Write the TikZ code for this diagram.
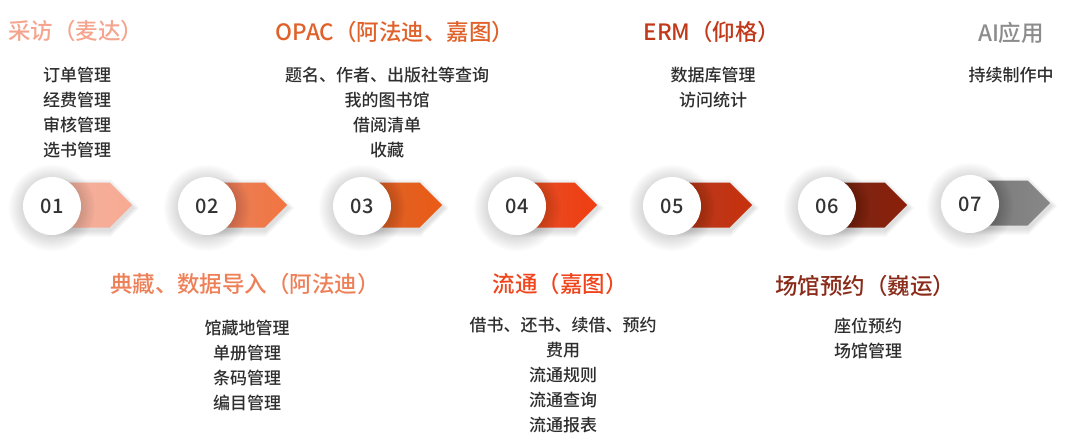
\documentclass[tikz,border=0pt]{standalone}
\usepackage{fontspec}
\setmainfont{Noto Sans CJK SC}[UprightFont={* Medium}]
\usetikzlibrary{shapes.symbols}
\definecolor{bodytxt}{HTML}{2E2E2E}
\definecolor{numtxt}{HTML}{333333}
\definecolor{tA}{HTML}{F5A58E}
\definecolor{tB}{HTML}{EE8058}
\definecolor{tC}{HTML}{E0622A}
\definecolor{tD}{HTML}{F0451C}
\definecolor{tE}{HTML}{C0391A}
\definecolor{tF}{HTML}{8A2B1A}
\definecolor{tG}{HTML}{8C8C8C}
\definecolor{cAl}{HTML}{F0B2A0}\definecolor{cAr}{HTML}{F8AA92}
\definecolor{cBl}{HTML}{E6845F}\definecolor{cBr}{HTML}{F27440}
\definecolor{cCl}{HTML}{D8662E}\definecolor{cCr}{HTML}{EC5A14}
\definecolor{cDl}{HTML}{E4522C}\definecolor{cDr}{HTML}{F03C10}
\definecolor{cEl}{HTML}{B43C22}\definecolor{cEr}{HTML}{C8300C}
\definecolor{cFl}{HTML}{742A1A}\definecolor{cFr}{HTML}{8C1E08}
\definecolor{cGl}{HTML}{787878}\definecolor{cGr}{HTML}{888888}
% #1 name, #2 x, #3 y, #4 left colour, #5 right colour, #6 label
\newcommand\mystepmark[6]{%
  \foreach \k in {1,...,8}{%
    \node[signal, signal to=east, signal pointer angle=90, inner sep=0pt, anchor=west,
      minimum width={80pt+1.6pt*\k}, minimum height={45pt+1.6pt*\k}, fill=black, opacity=0.014]
      (#1sh\k) at (#2+1-0.8*\k,#3+3) {};}
  \node[chev, left color=#4, right color=#5] (#1v) at (#2,#3) {};
  \foreach \k in {1,...,12}{%
    \fill[black, opacity=0.011] (#2,#3+3) circle ({29pt+1.2pt*\k});}
  \node[numc] (#1n) at (#2,#3+1) {#6};
}
\begin{document}
\begin{tikzpicture}[x=1pt,y=-1pt,
  ttl/.style={font=\fontsize{22.5}{26}\selectfont, anchor=center, inner sep=0pt},
  bdy/.style={font=\fontsize{17}{25}\selectfont, align=center, text=bodytxt, anchor=center, inner sep=0pt},
  numc/.style={circle, fill=white, minimum size=58pt, inner sep=0pt,
    font=\fontsize{20}{24}\selectfont, text=numtxt},
  chev/.style={signal, signal to=east, signal pointer angle=90, minimum width=80pt, minimum height=45pt,
    inner sep=0pt, anchor=west, draw=none}
]
\fill[white] (0,0) rectangle (1080,447);
\mystepmark{s1}{52}{205}{cAl}{cAr}{01}
\mystepmark{s2}{207}{205}{cBl}{cBr}{02}
\mystepmark{s3}{362}{205}{cCl}{cCr}{03}
\mystepmark{s4}{517}{205}{cDl}{cDr}{04}
\mystepmark{s5}{672}{205}{cEl}{cEr}{05}
\mystepmark{s6}{827}{205}{cFl}{cFr}{06}
\mystepmark{s7}{970}{203}{cGl}{cGr}{07}
% titles
\node[ttl, text=tA] (t1) at (76,31) {采访（麦达）};
\node[ttl, text=tC] (t3) at (395,32) {OPAC（阿法迪、嘉图）};
\node[ttl, text=tE] (t5) at (712,32) {ERM（仰格）};
\node[ttl, text=tG] (t7) at (1011,33) {AI应用};
\node[ttl, text=tB] (t2) at (245,284) {典藏、数据导入（阿法迪）};
\node[ttl, text=tD] (t4) at (560,284) {流通（嘉图）};
\node[ttl, text=tF] (t6) at (865,286) {场馆预约（巍运）};
% bodies
\node[bdy] (b1) at (77,112.5) {订单管理\\经费管理\\审核管理\\选书管理};
\node[bdy] (b3) at (387,112.5) {题名、作者、出版社等查询\\我的图书馆\\借阅清单\\收藏};
\node[bdy] (b5) at (713,87.5) {数据库管理\\访问统计};
\node[bdy] (b7) at (1011,75) {持续制作中};
\node[bdy] (b2) at (247,365) {馆藏地管理\\单册管理\\条码管理\\编目管理};
\node[bdy] (b4) at (563,375) {借书、还书、续借、预约\\费用\\流通规则\\流通查询\\流通报表};
\node[bdy] (b6) at (868,338.5) {座位预约\\场馆管理};
\end{tikzpicture}
\end{document}
